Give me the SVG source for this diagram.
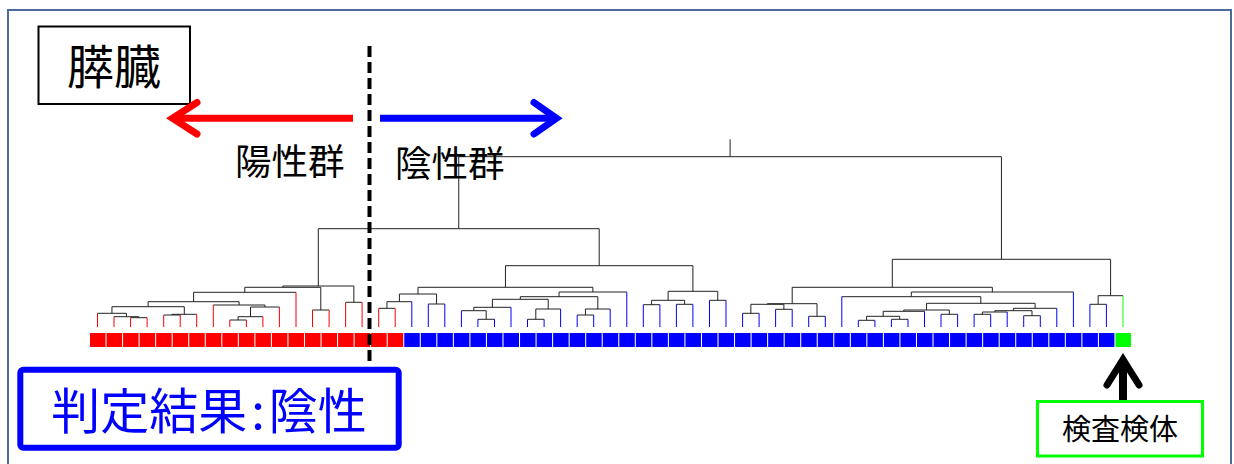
<svg xmlns="http://www.w3.org/2000/svg" width="1234" height="464" viewBox="0 0 1234 464">
<style>
.t{font-family:"Noto Sans CJK JP","Noto Sans CJK SC",sans-serif;fill:#000}
.br{fill:none;stroke:#222;stroke-width:1}
.lr{stroke:#ff0000;stroke-width:1}
.lb{stroke:#0000ff;stroke-width:1}
.lg{stroke:#00ff00;stroke-width:1}
.sr{fill:#ff0000}
.sb{fill:#0000ff}
.sg{fill:#00ff00}
.arrow{fill:none;stroke-width:7;stroke-linecap:round;stroke-linejoin:miter}
</style>
<rect x="0" y="0" width="1234" height="464" fill="#ffffff"/>
<rect id="frame" x="8" y="10" width="1223" height="480" fill="none" stroke="#4a6b9b" stroke-width="2"/>

<g id="title">
<rect x="38.5" y="26.5" width="151.5" height="77.5" fill="#fff" stroke="#000" stroke-width="2"/>
<text class="t" x="114" y="84" font-size="47" text-anchor="middle">膵臓</text>
</g>

<g id="group-arrows">
<line x1="353" y1="118.3" x2="176" y2="118.3" stroke="#ff0000" stroke-width="7"/>
<polyline class="arrow" stroke="#ff0000" points="197,102.5 172.5,118.3 197,134"/>
<line x1="380" y1="118.3" x2="552" y2="118.3" stroke="#0000ff" stroke-width="7"/>
<polyline class="arrow" stroke="#0000ff" points="534,102.5 556.5,118.3 534,134"/>
</g>

<g id="connectors">
<path class="br" d="M130.6 317.7H147.1M114 316.7H138.85M97.5 313.3H126.4M163.7 315H180.2M171.95 314.3H196.7M111.95 306.7H184.3M229.8 320H246.4M238.1 316.7H262.9M250.5 307H279.4M213.3 305H264.95M148.1 301.7H239.1M193.6 292.3H296M312.5 310H329.1M244.8 287.3H320.8M345.6 302.3H362.1M282.8 286H353.85M378.7 308.3H395.2M386.95 301.7H411.8M428.3 304H444.8M399.4 294H436.55M477.9 319.3H494.5M461.4 310.7H486.2M473.8 307.3H511M527.5 319.3H544.1M535.8 309H560.6M492.4 299.3H548.2M577.2 315H593.7M585.45 309H610.2M520.3 296.7H597.8M559.05 292H626.8M418 287.3H592.9M643.3 304.7H659.9M676.4 304.3H692.9M651.6 300.3H684.65M709.5 300.3H726M668.1 291.3H717.75M505.45 265.7H692.9M318.3 228.7H599.2M742.6 313.3H759.1M775.6 309.3H792.2M750.85 304.3H783.9M808.7 316.3H825.3M767.4 303.7H817M858.3 320.3H874.9M891.4 319.3H908M866.6 316.3H899.7M883.15 311.3H924.5M941 314.3H957.6M903.8 310H949.3M974.1 314.3H990.7M982.4 312H1007.2M1023.7 315.7H1040.3M994.8 310.7H1032M1013.4 308.3H1056.8M926.55 303.3H1035.1M841.8 296.7H980.8M911.3 292H1073.4M792.2 287.3H992.35M1089.9 304.3H1106.4M1098.15 295.7H1123M892.3 259.3H1110.6M458.75 156.7H1001.45"/>
<path class="br" d="M138.85 317.7V316.7M126.4 316.7V313.3M111.95 313.3V306.7M171.95 315V314.3M184.3 314.3V306.7M148.1 306.7V301.7M238.1 320V316.7M250.5 316.7V307M264.95 307V305M239.1 305V301.7M193.6 301.7V292.3M244.8 292.3V287.3M320.8 310V287.3M282.8 287.3V286M353.85 302.3V286M318.3 286V228.7M386.95 308.3V301.7M399.4 301.7V294M436.55 304V294M418 294V287.3M486.2 319.3V310.7M473.8 310.7V307.3M492.4 307.3V299.3M535.8 319.3V309M548.2 309V299.3M520.3 299.3V296.7M585.45 315V309M597.8 309V296.7M559.05 296.7V292M592.9 292V287.3M505.45 287.3V265.7M651.6 304.7V300.3M684.65 304.3V300.3M668.1 300.3V291.3M717.75 300.3V291.3M692.9 291.3V265.7M599.2 265.7V228.7M458.75 228.7V156.7M750.85 313.3V304.3M783.9 309.3V304.3M767.4 304.3V303.7M817 316.3V303.7M792.2 303.7V287.3M866.6 320.3V316.3M899.7 319.3V316.3M883.15 316.3V311.3M903.8 311.3V310M949.3 314.3V310M926.55 310V303.3M982.4 314.3V312M994.8 312V310.7M1032 315.7V310.7M1013.4 310.7V308.3M1035.1 308.3V303.3M980.8 303.3V296.7M911.3 296.7V292M992.35 292V287.3M892.3 287.3V259.3M1098.15 304.3V295.7M1110.6 295.7V259.3M1001.45 259.3V156.7M730.1 156.7V139.3"/>
<path class="lr" fill="none" d="M97.5 327V313.3M114 327V316.7M130.6 327V317.7M147.1 327V317.7M163.7 327V315M180.2 327V315M196.7 327V314.3M213.3 327V305M229.8 327V320M246.4 327V320M262.9 327V316.7M279.4 327V307M296 327V292.3M312.5 327V310M329.1 327V310M345.6 327V302.3M362.1 327V302.3M378.7 327V308.3M395.2 327V308.3"/>
<path class="lb" fill="none" d="M411.8 327V301.7M428.3 327V304M444.8 327V304M461.4 327V310.7M477.9 327V319.3M494.5 327V319.3M511 327V307.3M527.5 327V319.3M544.1 327V319.3M560.6 327V309M577.2 327V315M593.7 327V315M610.2 327V309M626.8 327V292M643.3 327V304.7M659.9 327V304.7M676.4 327V304.3M692.9 327V304.3M709.5 327V300.3M726 327V300.3M742.6 327V313.3M759.1 327V313.3M775.6 327V309.3M792.2 327V309.3M808.7 327V316.3M825.3 327V316.3M841.8 327V296.7M858.3 327V320.3M874.9 327V320.3M891.4 327V319.3M908 327V319.3M924.5 327V311.3M941 327V314.3M957.6 327V314.3M974.1 327V314.3M990.7 327V314.3M1007.2 327V312M1023.7 327V315.7M1040.3 327V315.7M1056.8 327V308.3M1073.4 327V292M1089.9 327V304.3M1106.4 327V304.3"/>
<path class="lg" fill="none" d="M1123 327V295.7"/>
</g>

<g id="leaves">
<rect class="sr" x="90" y="333" width="15.5" height="14"/>
<rect class="sr" x="106.54" y="333" width="15.5" height="14"/>
<rect class="sr" x="123.08" y="333" width="15.5" height="14"/>
<rect class="sr" x="139.62" y="333" width="15.5" height="14"/>
<rect class="sr" x="156.16" y="333" width="15.5" height="14"/>
<rect class="sr" x="172.7" y="333" width="15.5" height="14"/>
<rect class="sr" x="189.24" y="333" width="15.5" height="14"/>
<rect class="sr" x="205.78" y="333" width="15.5" height="14"/>
<rect class="sr" x="222.32" y="333" width="15.5" height="14"/>
<rect class="sr" x="238.86" y="333" width="15.5" height="14"/>
<rect class="sr" x="255.4" y="333" width="15.5" height="14"/>
<rect class="sr" x="271.94" y="333" width="15.5" height="14"/>
<rect class="sr" x="288.48" y="333" width="15.5" height="14"/>
<rect class="sr" x="305.02" y="333" width="15.5" height="14"/>
<rect class="sr" x="321.56" y="333" width="15.5" height="14"/>
<rect class="sr" x="338.1" y="333" width="15.5" height="14"/>
<rect class="sr" x="354.64" y="333" width="15.5" height="14"/>
<rect class="sr" x="371.18" y="333" width="15.5" height="14"/>
<rect class="sr" x="387.72" y="333" width="15.5" height="14"/>
<rect class="sb" x="404.26" y="333" width="15.5" height="14"/>
<rect class="sb" x="420.8" y="333" width="15.5" height="14"/>
<rect class="sb" x="437.34" y="333" width="15.5" height="14"/>
<rect class="sb" x="453.88" y="333" width="15.5" height="14"/>
<rect class="sb" x="470.42" y="333" width="15.5" height="14"/>
<rect class="sb" x="486.96" y="333" width="15.5" height="14"/>
<rect class="sb" x="503.5" y="333" width="15.5" height="14"/>
<rect class="sb" x="520.04" y="333" width="15.5" height="14"/>
<rect class="sb" x="536.58" y="333" width="15.5" height="14"/>
<rect class="sb" x="553.12" y="333" width="15.5" height="14"/>
<rect class="sb" x="569.66" y="333" width="15.5" height="14"/>
<rect class="sb" x="586.2" y="333" width="15.5" height="14"/>
<rect class="sb" x="602.74" y="333" width="15.5" height="14"/>
<rect class="sb" x="619.28" y="333" width="15.5" height="14"/>
<rect class="sb" x="635.82" y="333" width="15.5" height="14"/>
<rect class="sb" x="652.36" y="333" width="15.5" height="14"/>
<rect class="sb" x="668.9" y="333" width="15.5" height="14"/>
<rect class="sb" x="685.44" y="333" width="15.5" height="14"/>
<rect class="sb" x="701.98" y="333" width="15.5" height="14"/>
<rect class="sb" x="718.52" y="333" width="15.5" height="14"/>
<rect class="sb" x="735.06" y="333" width="15.5" height="14"/>
<rect class="sb" x="751.6" y="333" width="15.5" height="14"/>
<rect class="sb" x="768.14" y="333" width="15.5" height="14"/>
<rect class="sb" x="784.68" y="333" width="15.5" height="14"/>
<rect class="sb" x="801.22" y="333" width="15.5" height="14"/>
<rect class="sb" x="817.76" y="333" width="15.5" height="14"/>
<rect class="sb" x="834.3" y="333" width="15.5" height="14"/>
<rect class="sb" x="850.84" y="333" width="15.5" height="14"/>
<rect class="sb" x="867.38" y="333" width="15.5" height="14"/>
<rect class="sb" x="883.92" y="333" width="15.5" height="14"/>
<rect class="sb" x="900.46" y="333" width="15.5" height="14"/>
<rect class="sb" x="917" y="333" width="15.5" height="14"/>
<rect class="sb" x="933.54" y="333" width="15.5" height="14"/>
<rect class="sb" x="950.08" y="333" width="15.5" height="14"/>
<rect class="sb" x="966.62" y="333" width="15.5" height="14"/>
<rect class="sb" x="983.16" y="333" width="15.5" height="14"/>
<rect class="sb" x="999.7" y="333" width="15.5" height="14"/>
<rect class="sb" x="1016.24" y="333" width="15.5" height="14"/>
<rect class="sb" x="1032.78" y="333" width="15.5" height="14"/>
<rect class="sb" x="1049.32" y="333" width="15.5" height="14"/>
<rect class="sb" x="1065.86" y="333" width="15.5" height="14"/>
<rect class="sb" x="1082.4" y="333" width="15.5" height="14"/>
<rect class="sb" x="1098.94" y="333" width="15.5" height="14"/>
<rect class="sg" x="1115.48" y="333" width="15.5" height="14"/>
</g>

<g id="labels">
<text class="t" x="235" y="174.5" font-size="36.5">陽性群</text>
<text class="t" x="395" y="177" font-size="36.5">陰性群</text>
</g>

<line id="threshold" x1="369.5" y1="46" x2="369.5" y2="366" stroke="#000" stroke-width="4" stroke-dasharray="11,5"/>

<g id="result">
<rect x="20.3" y="369.7" width="378.4" height="78" rx="3" fill="#fff" stroke="#0000ff" stroke-width="6"/>
<text class="t" x="209" y="429" font-size="49" text-anchor="middle" style="fill:#0000ff">判定結果<tspan dx="4">:</tspan><tspan dx="4">陰性</tspan></text>
</g>

<g id="sample">
<line x1="1123" y1="400" x2="1123" y2="365" stroke="#000" stroke-width="8"/>
<polyline class="arrow" stroke="#000" stroke-width="8" points="1107,385 1123,359.5 1139,385"/>
<rect x="1037.5" y="401.5" width="165" height="54.5" fill="#fff" stroke="#00ff00" stroke-width="3"/>
<text class="t" x="1120" y="439.5" font-size="29" text-anchor="middle">検査検体</text>
</g>
</svg>
